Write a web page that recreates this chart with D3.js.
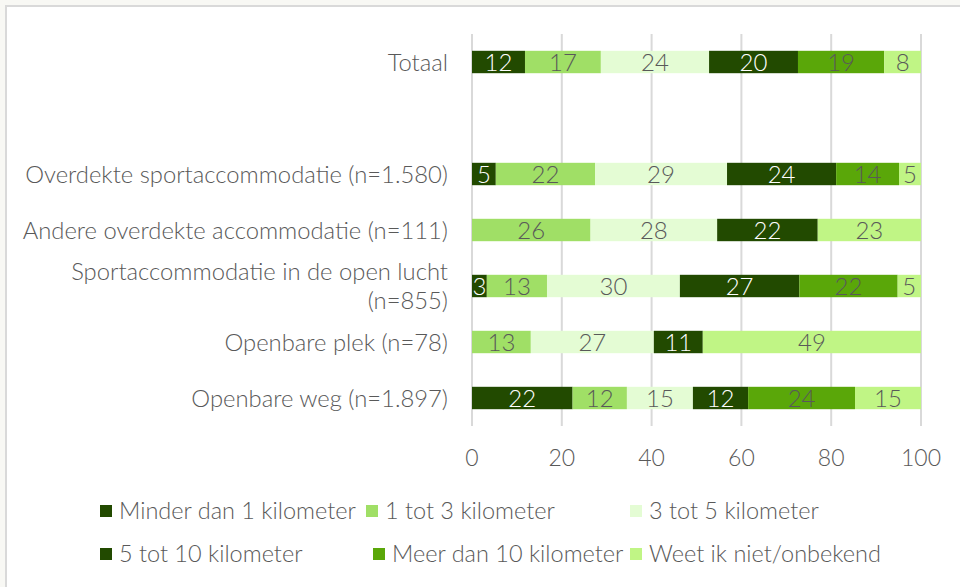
<!DOCTYPE html>
<html lang="nl">
<head>
<meta charset="utf-8"/>
<title>Afstand tot locatie</title>
<style>
  html, body { margin: 0; padding: 0; background: #f8f8f4; }
  #chart { position: absolute; left: 0; top: 0; }
  text { font-family: Lato, "Open Sans", sans-serif; font-weight: 300; }
</style>
</head>
<body>
<div id="chart"></div>
<script src="https://d3js.org/d3.v7.min.js"></script>
<script>
  // categories (top to bottom), the blank one is an empty row in the source chart
  const categories = [
    "Totaal",
    " ",
    "Overdekte sportaccommodatie (n=1.580)",
    "Andere overdekte accommodatie (n=111)",
    "Sportaccommodatie in de open lucht (n=855)",
    "Openbare plek (n=78)",
    "Openbare weg (n=1.897)"
  ];
  const categoryLines = {
    "Sportaccommodatie in de open lucht (n=855)": ["Sportaccommodatie in de open lucht", "(n=855)"]
  };

  const seriesNames = [
    "Minder dan 1 kilometer",
    "1 tot 3 kilometer",
    "3 tot 5 kilometer",
    "5 tot 10 kilometer",
    "Meer dan 10 kilometer",
    "Weet ik niet/onbekend"
  ];
  const seriesColors = ["#224a00", "#a0df66", "#e4fcd4", "#224a00", "#5aa709", "#c0f585"];
  const labelColors = ["#ffffff", "#595959", "#595959", "#ffffff", "#595959", "#595959"];

  // percentages per series, in category order (labels are rounded)
  const minder1  = [11.8, null, 5.3, 0, 3.3, 0, 22.4];
  const tot3     = [16.9, null, 22.1, 26.4, 13.4, 13.1, 12.1];
  const tot5     = [24.1, null, 29.4, 28.2, 29.6, 27.4, 14.7];
  const tot10    = [19.8, null, 24.3, 22.4, 26.6, 10.9, 12.3];
  const meer10   = [19.2, null, 14.0, 0, 21.9, 0, 23.8];
  const onbekend = [8.2, null, 4.9, 23.0, 5.2, 48.6, 14.7];
  const seriesValues = [minder1, tot3, tot5, tot10, meer10, onbekend];

  const xTicks = [0, 20, 40, 60, 80, 100];

  const width = 960, height = 587;
  const svg = d3.select("#chart").append("svg")
      .attr("width", width)
      .attr("height", height);

  // white panel with light frame
  svg.append("rect")
      .attr("x", 6).attr("y", 6)
      .attr("width", width).attr("height", height)
      .attr("fill", "#fff")
      .attr("stroke", "#d9d9d9")
      .attr("stroke-width", 2);

  const x = d3.scaleLinear().domain([0, 100]).range([472, 921]);
  const y = d3.scaleBand().domain(categories).range([34, 426])
      .paddingInner(0.6).paddingOuter(0.3);

  // gridlines
  svg.append("g")
    .selectAll("line")
    .data(xTicks)
    .join("line")
      .attr("x1", d => x(d)).attr("x2", d => x(d))
      .attr("y1", 34).attr("y2", 426)
      .attr("stroke", "#d9d9d9")
      .attr("stroke-width", 2);

  // stacked data
  const rows = categories.map((c, i) => {
    const r = { cat: c };
    seriesNames.forEach((s, j) => r[s] = seriesValues[j][i] || 0);
    return r;
  });
  const stacked = d3.stack().keys(seriesNames)(rows);
  const fmt = d3.format(".0f");

  const layers = svg.append("g")
    .selectAll("g")
    .data(stacked)
    .join("g")
      .attr("fill", (d, i) => seriesColors[i]);

  layers.selectAll("rect")
    .data(d => d.filter(p => p[1] - p[0] > 0))
    .join("rect")
      .attr("x", d => x(d[0]))
      .attr("width", d => x(d[1]) - x(d[0]))
      .attr("y", d => y(d.data.cat))
      .attr("height", y.bandwidth());

  layers.each(function(layer, i) {
    d3.select(this).selectAll("text")
      .data(layer.filter(p => p[1] - p[0] > 0))
      .join("text")
        .attr("x", d => (x(d[0]) + x(d[1])) / 2)
        .attr("y", d => y(d.data.cat) + y.bandwidth() / 2)
        .attr("dy", "0.36em")
        .attr("text-anchor", "middle")
        .attr("font-size", 24)
        .attr("fill", labelColors[i])
        .text(d => fmt(d.data[seriesNames[i]]));
  });

  // category labels
  const catG = svg.append("g");
  categories.forEach(c => {
    const lines = categoryLines[c] || [c];
    const cy = y(c) + y.bandwidth() / 2;
    const t = catG.append("text")
        .attr("text-anchor", "end")
        .attr("font-size", 23.8)
        .attr("fill", "#595959");
    lines.forEach((l, k) => {
      t.append("tspan")
        .attr("x", 448)
        .attr("y", cy + (k - (lines.length - 1) / 2) * 29)
        .attr("dy", "0.36em")
        .text(l);
    });
  });

  // x axis tick labels
  svg.append("g")
    .selectAll("text")
    .data(xTicks)
    .join("text")
      .attr("x", d => x(d))
      .attr("y", 458)
      .attr("dy", "0.36em")
      .attr("text-anchor", "middle")
      .attr("font-size", 23)
      .attr("fill", "#595959")
      .text(d => d);

  // legend, two rows of three
  const legendX = [[100, 366, 630], [100, 373, 630]];
  const legendY = [511, 554];
  const legend = svg.append("g")
    .selectAll("g")
    .data(seriesNames)
    .join("g")
      .attr("transform", (d, i) => {
        const r = Math.floor(i / 3), c = i % 3;
        return `translate(${legendX[r][c]},${legendY[r]})`;
      });
  legend.append("rect")
      .attr("x", 0).attr("y", -6)
      .attr("width", 12).attr("height", 12)
      .attr("fill", (d, i) => seriesColors[i]);
  legend.append("text")
      .attr("x", 19)
      .attr("dy", "0.36em")
      .attr("font-size", 23.5)
      .attr("fill", "#595959")
      .text(d => d);
</script>
</body>
</html>
